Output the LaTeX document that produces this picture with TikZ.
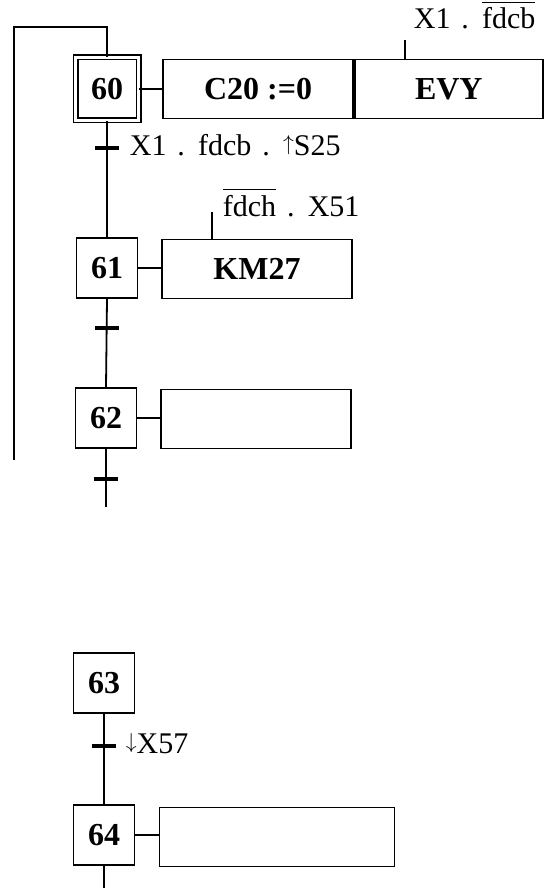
\documentclass[tikz,border=0pt]{standalone}
\usepackage{fontspec}
\setmainfont{Liberation Serif}
\newcommand\ovl[1]{\leavevmode\vbox{\hrule height 1.3pt\kern 5pt\hbox{#1}}}
\newcommand\lblfont{\fontsize{30}{36}\selectfont\spaceskip 0.36em\relax}
\newcommand\uparr{\raisebox{0.15em}{\resizebox*{!}{0.64em}{$\uparrow$}}}
\newcommand\downarr{\raisebox{0.15em}{\resizebox*{!}{0.64em}{$\downarrow$}}}
\begin{document}
\begin{tikzpicture}[x=1pt,y=-1pt,line width=1.8pt,
  stepbox/.style={draw,minimum width=61pt,minimum height=60pt,inner sep=0pt,font=\fontsize{32}{38}\selectfont\bfseries},
  actbox/.style={draw,minimum width=190pt,minimum height=59pt,inner sep=0pt,font=\fontsize{32}{38}\selectfont\bfseries},
  lbl/.style={font=\lblfont,inner sep=0pt,anchor=base west},
  trans/.style={line width=3.8pt},
  thin/.style={line width=1.4pt}]
\useasboundingbox (0,0) rectangle (550,888);
% steps
\node[stepbox,minimum width=63pt,minimum height=63pt,double,double distance=2.4pt] (s60) at (107,89) {60};
\node[stepbox] (s61) at (107,268) {61};
\node[stepbox] (s62) at (106,418) {62};
\node[stepbox] (s63) at (104,683) {63};
\node[stepbox] (s64) at (104,835) {64};
% actions
\node[actbox] (a60) at (258,89) {C20 :=0};
\node[actbox,minimum width=188pt,anchor=west] (a60b) at (a60.east) {EVY};
\node[actbox] (a61) at (257,269) {KM27};
\node[actbox] (a62) at (256,419) {};
\node[actbox,minimum width=235pt] (a64) at (277,837) {};
% links step-action
\draw (s60.east) -- (a60.west);
\draw (s61.east) -- (a61.west |- s61.east);
\draw (s62.east) -- (a62.west |- s62.east);
\draw (s64.east) -- (a64.west |- s64.east);
% vertical links
\draw (s60.south) -- (s61.north);
\draw (s61.south) -- (s62.north);
\coordinate (e62) at (106,507);
\draw (s62.south) -- (e62);
\draw (s63.south) -- (s64.north);
\coordinate (e64) at (104,888);
\draw (s64.south) -- (e64);
% loop
\coordinate (lb) at (14,460);
\coordinate (lt) at (14,27);
\coordinate (lc) at (107,27);
\draw (lb) -- (lt) -- (lc) -- (s60.north);
% transitions
\coordinate (t1) at (107,148);
\coordinate (t2) at (107,328);
\coordinate (t3) at (106,479);
\coordinate (t4) at (104,746);
\foreach \t in {t1,t2,t3,t4}
  \draw[trans] ([xshift=-12pt]\t) -- ([xshift=12pt]\t);
\node[lbl] (l1) at (129,155) {X1 . fdcb . \uparr S25};
\node[lbl] (l4) at (125,753) {\downarr X57};
% action conditions
\coordinate (c60) at (405,40);
\draw[thin] (c60) -- (c60 |- a60b.north);
\node[lbl] (lc60) at (413,29) {X1 . \ovl{fdcb}};
\coordinate (c61) at (212,212);
\draw[thin] (c61) -- (c61 |- a61.north);
\node[lbl] (lc61) at (222,216) {\ovl{fdch} . X51};
\end{tikzpicture}
\end{document}
